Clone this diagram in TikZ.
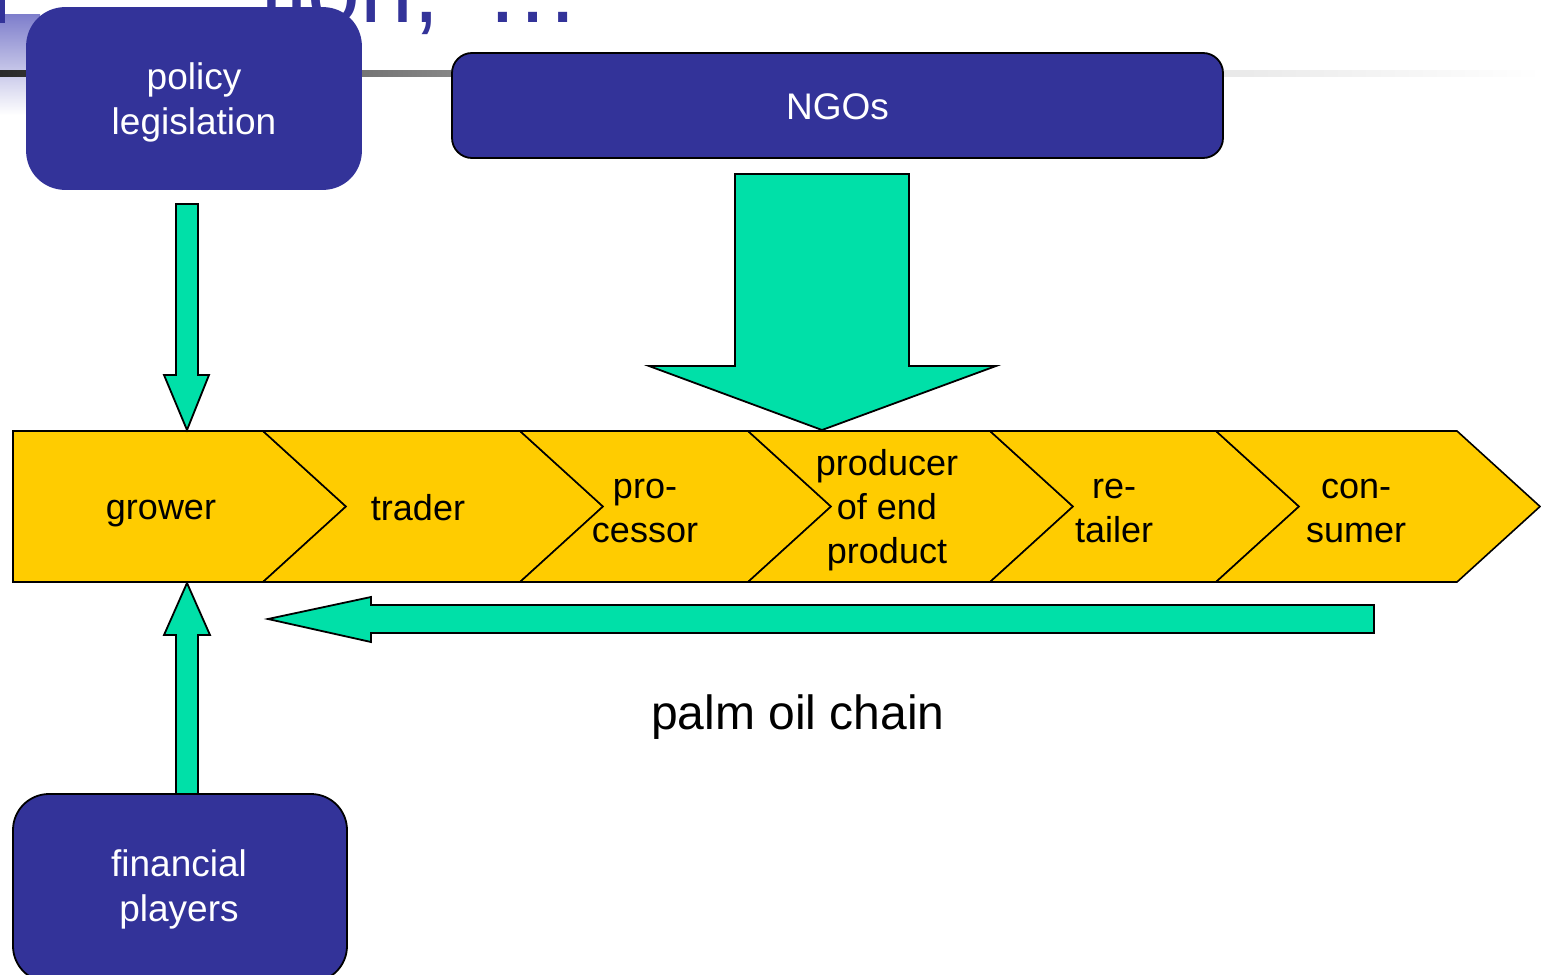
\documentclass[tikz,border=0pt]{standalone}
\usepackage{fontspec}
\setmainfont{Liberation Sans}
\definecolor{boxblue}{HTML}{333399}
\definecolor{chevy}{HTML}{FFCC00}
\definecolor{flow}{HTML}{00E0A8}
\definecolor{barblue}{HTML}{7F7FCC}
\definecolor{ruledark}{HTML}{2A2A2A}
\definecolor{rulemid}{HTML}{C8C8C8}
\tikzset{
  bluebox/.style={fill=boxblue, draw=black, line width=1.8pt, rounded corners=#1, inner sep=0pt},
  bluetext/.style={text=white, align=center, font=\fontsize{37}{45}\selectfont, inner sep=0pt},
  chevshape/.style={fill=chevy, draw=black, line width=1.6pt, line join=miter},
  chevtext/.style={text=black, align=center, font=\fontsize{36}{44}\selectfont, inner sep=0pt},
  blockarrow/.style={fill=flow, draw=black, line width=1.8pt, line join=miter},
}
\begin{document}
\begin{tikzpicture}[x=1pt,y=-1pt]
\clip (0,0) rectangle (1541,974);
\useasboundingbox (0,0) rectangle (1541,974);
% slide template decorations
\shade[left color=barblue, right color=white, shading angle=0] (0,15) rectangle (40,115);
\shade[left color=ruledark, right color=white, middle color=rulemid] (0,70) rectangle (1541,76);
\fill[boxblue] (0,0) rectangle (5,23);
\node[anchor=base east, text=boxblue, font=\fontsize{95}{110}\selectfont, inner sep=0pt] (title) at (581,23) {tion,\hspace{46pt}…};
% top boxes
\node[bluebox=38pt, draw=boxblue, minimum width=334pt, minimum height=181pt] (policy) at (194,98.5) {};
\node[bluetext] (policytxt) at (194,102) {policy\\legislation};
\node[bluebox=20pt, minimum width=771pt, minimum height=105pt] (ngo) at (837.5,105.5) {};
\node[bluetext] (ngotxt) at (837.5,107) {NGOs};
\node[bluebox=36pt, minimum width=334pt, minimum height=188pt] (fin) at (180,888) {};
\node[bluetext] (fintxt) at (179,889) {financial\\players};
% chevrons
\draw[chevshape] (13,431) -- (263,431) -- (346,506.5) -- (263,582) -- (13,582) -- cycle;
\draw[chevshape] (263,431) -- (520,431) -- (603,506.5) -- (520,582) -- (263,582) -- (346,506.5) -- cycle;
\draw[chevshape] (520,431) -- (748,431) -- (831,506.5) -- (748,582) -- (520,582) -- (603,506.5) -- cycle;
\draw[chevshape] (748,431) -- (990,431) -- (1073,506.5) -- (990,582) -- (748,582) -- (831,506.5) -- cycle;
\draw[chevshape] (990,431) -- (1216,431) -- (1299,506.5) -- (1216,582) -- (990,582) -- (1073,506.5) -- cycle;
\draw[chevshape] (1216,431) -- (1457,431) -- (1540,506.5) -- (1457,582) -- (1216,582) -- (1299,506.5) -- cycle;
\node[chevtext] (grower) at (161,514) {grower};
\node[chevtext] (trader) at (418,507.5) {trader};
\node[chevtext] (processor) at (645,511) {pro-\\cessor};
\node[chevtext] (producer) at (887,510) {producer\\of end\\product};
\node[chevtext] (retailer) at (1114,511) {re-\\tailer};
\node[chevtext] (consumer) at (1356,511) {con-\\sumer};
% block arrows
\draw[blockarrow] (176,204) -- (198,204) -- (198,375) -- (209,375) -- (187,430) -- (164,375) -- (176,375) -- cycle;
\draw[blockarrow] (187,583) -- (210,635) -- (198,635) -- (198,794) -- (176,794) -- (176,635) -- (164,635) -- cycle;
\draw[blockarrow] (735,174) -- (909,174) -- (909,366) -- (996,366) -- (822,430) -- (649,366) -- (735,366) -- cycle;
\draw[blockarrow] (268,619) -- (371,597) -- (371,605) -- (1374,605) -- (1374,633) -- (371,633) -- (371,642) -- cycle;
% caption
\node[font=\fontsize{48}{56}\selectfont, inner sep=0pt] (caption) at (798,717) {palm oil chain};
\end{tikzpicture}
\end{document}
